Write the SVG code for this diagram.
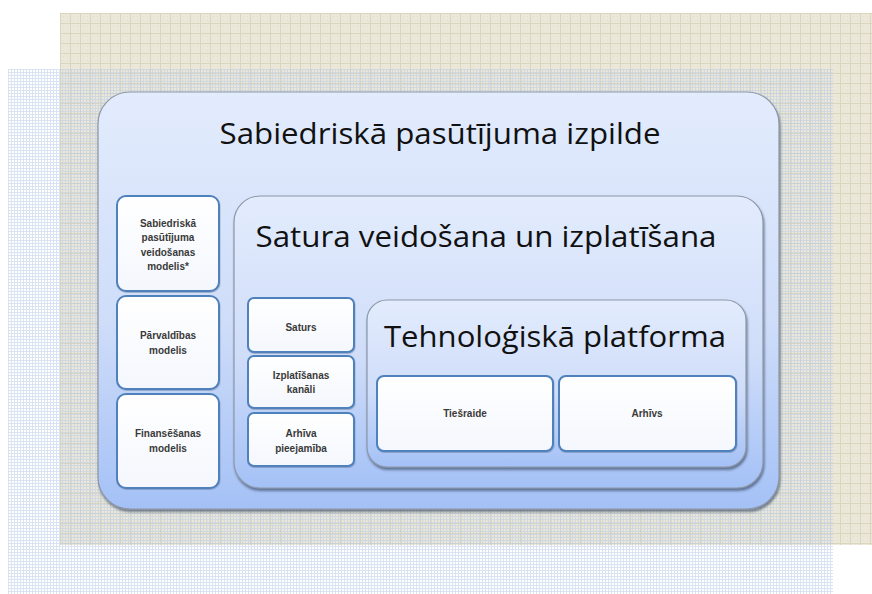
<svg xmlns="http://www.w3.org/2000/svg" width="872" height="594" viewBox="0 0 872 594">
<defs>
<pattern id="beige" width="10" height="10" patternUnits="userSpaceOnUse" x="60" y="13">
<rect width="10" height="10" fill="#ebe8d9"/>
<path d="M0 0.5H10M0.5 0V10" stroke="#dad6be" stroke-width="1"/>
<path d="M3 3h1v1h-1zM7 7h1v1h-1zM7 3h1v1h-1zM3 7h1v1h-1z" fill="#e2dfca"/>
</pattern>
<pattern id="bluedots" width="3" height="3" patternUnits="userSpaceOnUse" x="8" y="69">
<path d="M0 0.5H3M0.5 0V3" stroke="#b9cbe8" stroke-width="1" opacity="0.55"/>
</pattern>
<linearGradient id="gBig" x1="0" y1="0" x2="0" y2="1">
<stop offset="0" stop-color="#e3ecfd"/>
<stop offset="0.55" stop-color="#cfddf9"/>
<stop offset="1" stop-color="#a4c1f6"/>
</linearGradient>
<linearGradient id="gWhite" x1="0" y1="0" x2="0" y2="1">
<stop offset="0" stop-color="#ffffff"/>
<stop offset="1" stop-color="#f4f7fd"/>
</linearGradient>
<filter id="sh" x="-5%" y="-5%" width="110%" height="115%">
<feDropShadow dx="1" dy="2.5" stdDeviation="1.3" flood-color="#2e3a55" flood-opacity="0.6"/>
</filter>
<filter id="shs" x="-5%" y="-5%" width="110%" height="115%">
<feDropShadow dx="0.5" dy="1" stdDeviation="0.6" flood-color="#5a6a88" flood-opacity="0.4"/>
</filter>
</defs>
<style>
.cont{fill:url(#gBig);stroke:#8d97aa;stroke-width:1.2;filter:url(#sh)}
.leaf{fill:url(#gWhite);stroke:#4f81bd;stroke-width:2;filter:url(#shs)}
.title{font-family:"Open Sans","Noto Sans","Liberation Sans",sans-serif;fill:#111;text-anchor:middle}
.small{font-family:"Liberation Sans","Noto Sans",sans-serif;font-size:10px;font-weight:bold;fill:#3a3a3a;text-anchor:middle}
</style>
<rect x="0" y="0" width="872" height="594" fill="#ffffff"/>
<rect x="60" y="13" width="812" height="532" fill="url(#beige)"/>
<rect x="8" y="69" width="825" height="525" fill="url(#bluedots)"/>

<g id="outer">
<rect class="cont" x="98" y="92" width="681" height="417" rx="32" ry="32"/>
<text class="title" x="440" y="144" font-size="30" textLength="441" lengthAdjust="spacingAndGlyphs">Sabiedriskā pasūtījuma izpilde</text>
</g>

<g id="model1">
<rect class="leaf" x="117" y="196" width="102" height="95" rx="9"/>
<text class="small" x="168" y="227">Sabiedriskā</text>
<text class="small" x="168" y="241">pasūtījuma</text>
<text class="small" x="168" y="256">veidošanas</text>
<text class="small" x="168" y="270">modelis*</text>
</g>
<g id="model2">
<rect class="leaf" x="117" y="296" width="102" height="93" rx="9"/>
<text class="small" x="168" y="339">Pārvaldības</text>
<text class="small" x="168" y="354">modelis</text>
</g>
<g id="model3">
<rect class="leaf" x="117" y="394" width="102" height="94" rx="9"/>
<text class="small" x="168" y="437">Finansēšanas</text>
<text class="small" x="168" y="452">modelis</text>
</g>

<g id="content">
<rect class="cont" x="234" y="196" width="529" height="292" rx="26" ry="26"/>
<text class="title" x="486" y="247" font-size="29" textLength="461" lengthAdjust="spacingAndGlyphs">Satura veidošana un izplatīšana</text>
</g>

<g id="saturs">
<rect class="leaf" x="248" y="298" width="106" height="54" rx="6"/>
<text class="small" x="301" y="331">Saturs</text>
</g>
<g id="kanali">
<rect class="leaf" x="248" y="356" width="106" height="52" rx="6"/>
<text class="small" x="301" y="379">Izplatīšanas</text>
<text class="small" x="301" y="393">kanāli</text>
</g>
<g id="pieejamiba">
<rect class="leaf" x="248" y="413" width="106" height="53" rx="6"/>
<text class="small" x="301" y="437">Arhīva</text>
<text class="small" x="301" y="452">pieejamība</text>
</g>

<g id="platforma">
<rect class="cont" x="367" y="300" width="379" height="167" rx="20" ry="20"/>
<text class="title" x="555" y="347" font-size="29" textLength="342" lengthAdjust="spacingAndGlyphs">Tehnoloģiskā platforma</text>
</g>
<g id="tiesraide">
<rect class="leaf" x="377" y="376" width="176" height="75" rx="7"/>
<text class="small" x="465" y="417">Tiešraide</text>
</g>
<g id="arhivs">
<rect class="leaf" x="559" y="376" width="177" height="75" rx="7"/>
<text class="small" x="647" y="417">Arhīvs</text>
</g>

<g id="connectors"></g>
</svg>
